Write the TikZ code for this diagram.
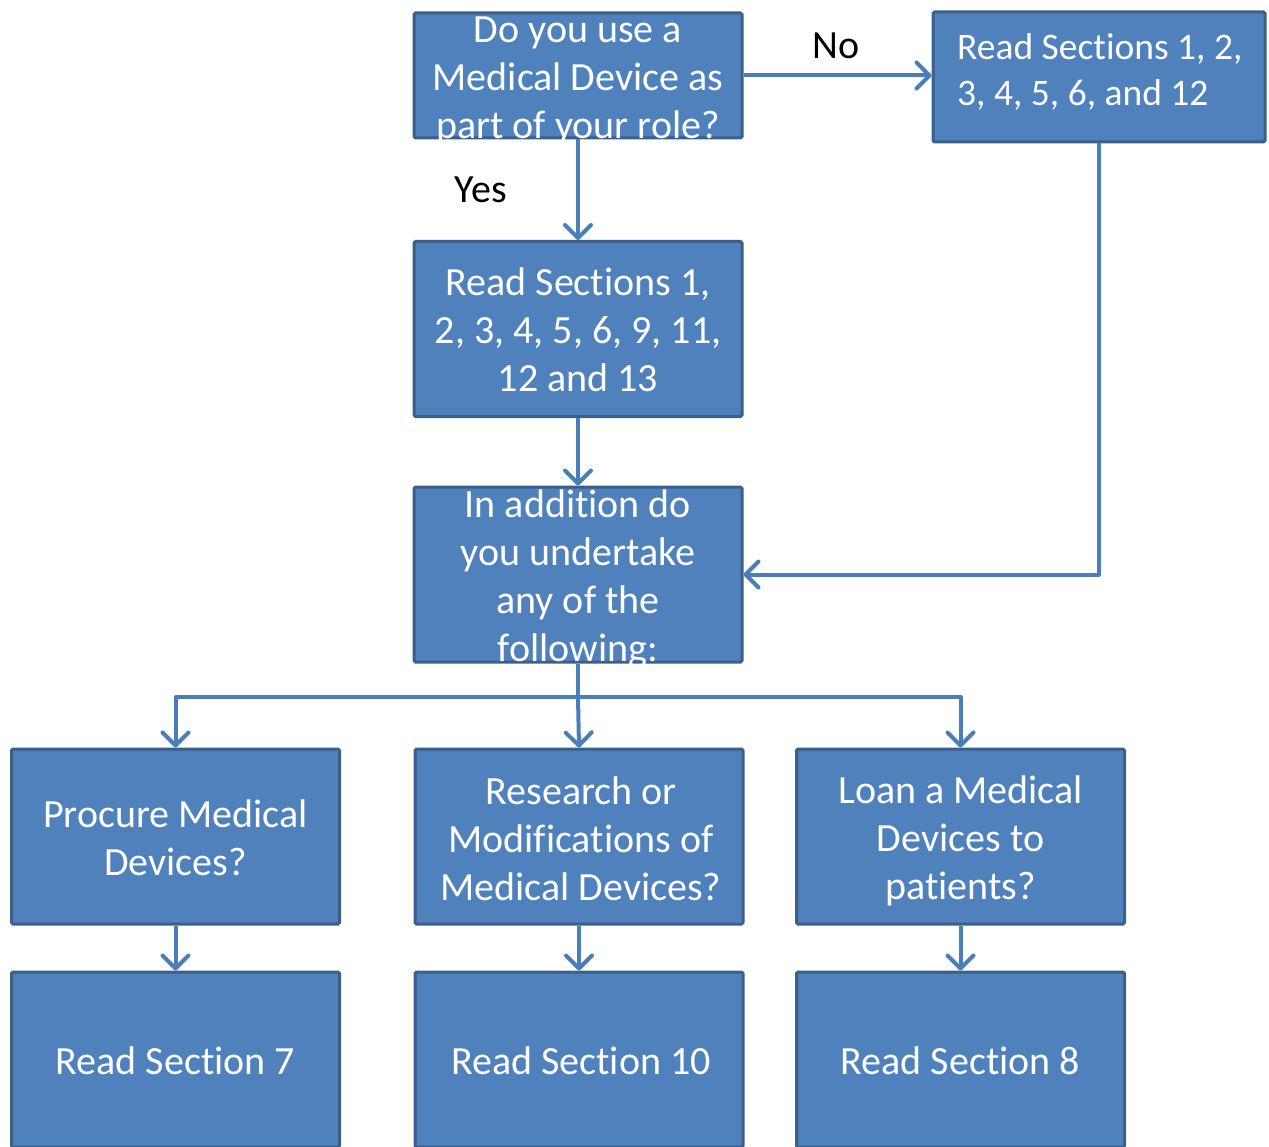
\documentclass[tikz,border=0pt]{standalone}
\usepackage{fontspec}
\setmainfont{Carlito}[Ligatures=CommonOff]
\usetikzlibrary{arrows.meta}
\definecolor{boxfill}{HTML}{4F81BD}
\definecolor{boxline}{HTML}{3A5F8B}
\definecolor{linkcol}{HTML}{4A7EBB}
\begin{document}
\begin{tikzpicture}[x=1pt,y=-1pt,
  box/.style={draw=boxline, fill=boxfill, line width=3pt, rounded corners=1.5pt,
    inner sep=0pt, minimum width=328pt, minimum height=175pt},
  txt/.style={text=white, font=\fontsize{40}{48}\selectfont, align=center, inner sep=0pt},
  lbl/.style={text=black, font=\fontsize{40}{48}\selectfont, inner sep=0pt},
  link/.style={draw=linkcol, line width=4pt, line join=round,
    -{Straight Barb[length=13pt,width=26pt,round]}},
  plain/.style={draw=linkcol, line width=4pt, line join=round}]
\useasboundingbox (0,0) rectangle (1269,1147);

% boxes
\node[box, minimum height=125pt] (qa) at (578,75.5) {};
\node[box, minimum width=332pt, minimum height=130pt] (rb) at (1099,77) {};
\node[box] (rc) at (578,329) {};
\node[box] (qd) at (578,574.5) {};
\node[box] (pe) at (175.5,836.5) {};
\node[box] (rf) at (579,836.5) {};
\node[box] (lg) at (960.5,836.5) {};
\node[box] (re) at (175.5,1059.5) {};
\node[box] (rm) at (579,1059.5) {};
\node[box] (rl) at (960.5,1059.5) {};

% connectors
\draw[link] (qa.east) -- (qa.east -| rb.west);
\draw[link] (qa.south) -- (rc.north);
\draw[link] (rb.south) |- (qd.east);
\draw[link] (rc.south) -- (qd.north);
\coordinate (split) at (578,697);
\draw[plain] (qd.south) -- (split);
\draw[link] (split) -| (pe.north);
\draw[link] (split) -| (lg.north);
\draw[link] (split) -- (rf.north);
\draw[link] (pe.south) -- (re.north);
\draw[link] (rf.south) -- (rm.north);
\draw[link] (lg.south) -- (rl.north);

% labels on the connectors
\node[lbl] (no) at (836,46) {No};
\node[lbl] (yes) at (481,190) {Yes};

% box texts
\node[txt] (tqa) at (578,80.5) {Do you use a\\Medical Device as\\part of your role?};
\node[txt, font=\fontsize{37.5}{46}\selectfont, align=left, anchor=west] (trb) at (957,72) {Read Sections 1, 2,\\3, 4, 5, 6, and 12};
\node[txt] (trc) at (578,330) {Read Sections 1,\\2, 3, 4, 5, 6, 9, 11,\\12 and 13};
\node[txt] (tqd) at (578,579) {In addition do\\you undertake\\any of the\\following:};
\node[txt] (tpe) at (175.5,837.5) {Procure Medical\\Devices?};
\node[txt] (trf) at (581,838.5) {Research or\\Modifications of\\Medical Devices?};
\node[txt] (tlg) at (960.5,840.5) {Loan a Medical\\Devices to\\patients?};
\node[txt] (tre) at (175.5,1061) {Read Section 7};
\node[txt] (trm) at (581,1061) {Read Section 10};
\node[txt] (trl) at (960.5,1061) {Read Section 8};
\end{tikzpicture}
\end{document}
